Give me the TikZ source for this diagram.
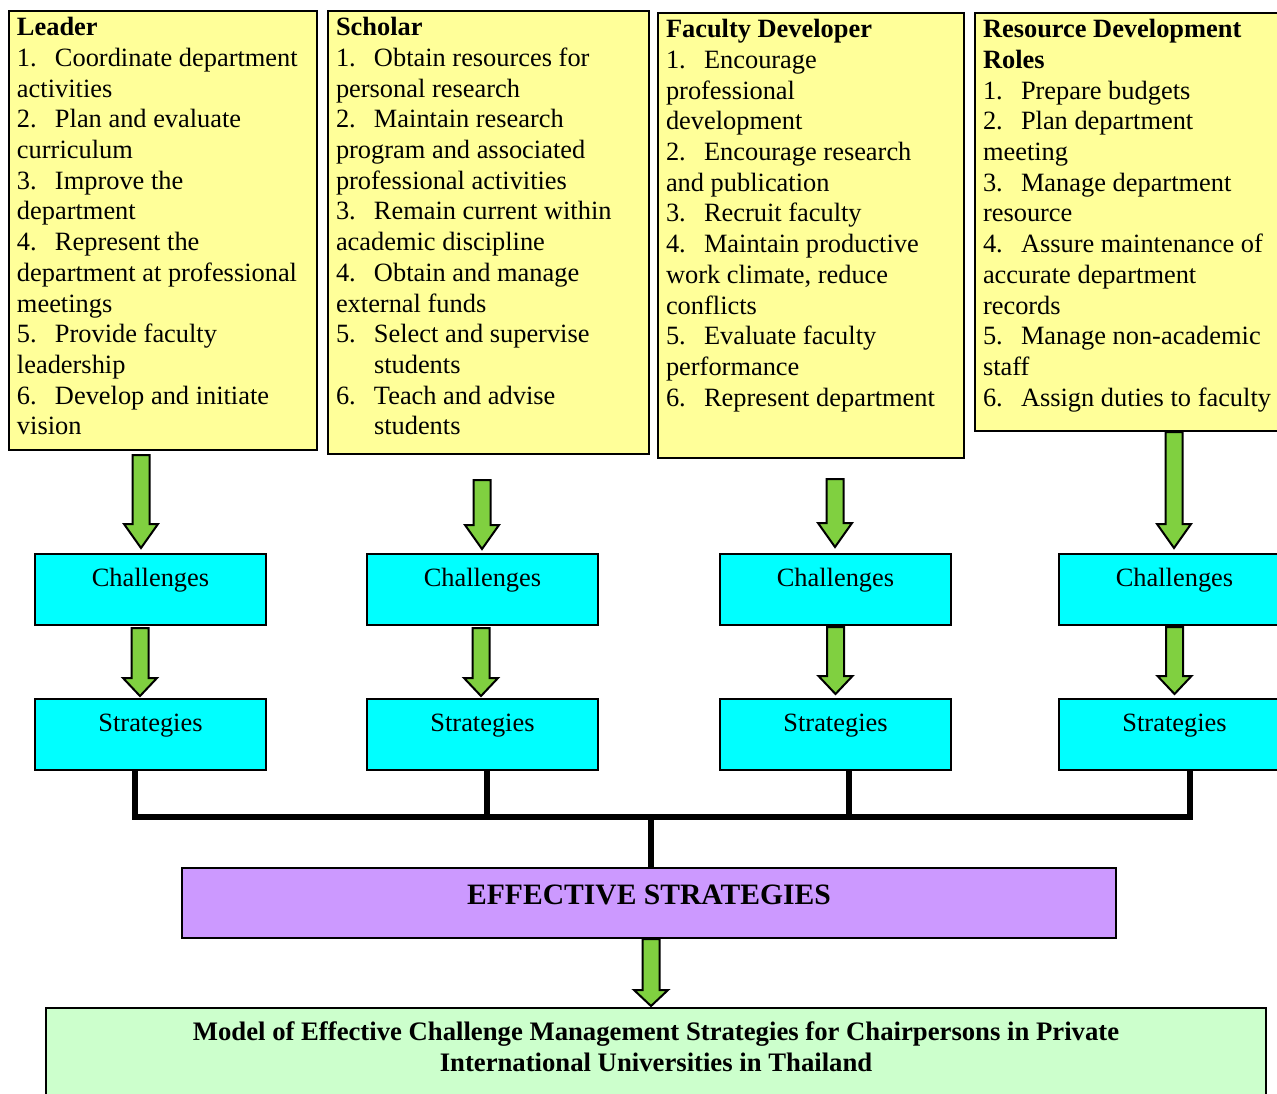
\documentclass[tikz,border=0pt]{standalone}
\usepackage{fontspec}
\setmainfont{Liberation Serif}
\usepackage{tikz}
\usetikzlibrary{calc}

\definecolor{roleyellow}{RGB}{255,255,153}
\definecolor{stagecyan}{RGB}{0,255,255}
\definecolor{effpurple}{RGB}{204,153,255}
\definecolor{modelgreen}{RGB}{204,255,204}
\definecolor{arrowgreen}{RGB}{128,208,64}

\newcommand{\bodyfont}{\fontsize{13.2pt}{15.35pt}\selectfont}
\newcommand{\rolenum}[1]{\makebox[19pt][l]{#1}}

\tikzset{
  rolebox/.style={draw, line width=1pt, fill=roleyellow, anchor=north west,
    inner xsep=4pt, inner ysep=3.2pt, font=\bodyfont},
  stagebox/.style={draw, line width=1pt, fill=stagecyan, anchor=north,
    minimum width=115.5pt, inner ysep=0pt, text height=16pt, text depth=19.5pt,
    font=\bodyfont},
  fatarrow/.style={draw=black, line width=1pt, fill=arrowgreen, line join=miter,
    to path={let \p1=(\tikztostart), \p2=(\tikztotarget) in
      (\x1-4.25pt,\y1) -- (\x1+4.25pt,\y1) -- (\x1+4.25pt,\y2+#1)
      -- (\x1+8.5pt,\y2+#1) -- (\x1,\y2) -- (\x1-8.5pt,\y2+#1)
      -- (\x1-4.25pt,\y2+#1) -- cycle}},
  fatarrow/.default=12pt,
  bus/.style={draw, line width=2.8pt, line join=miter}
}

\begin{document}
\begin{tikzpicture}[x=0.5pt, y=-0.5pt]
  \useasboundingbox (0,0) rectangle (1277,1093);

  % Role boxes
  \node[rolebox] (lead) at (8,10) {\parbox[t][213.1pt][t]{146pt}{\raggedright
    \textbf{Leader}\\
    \rolenum{1.}Coordinate department\\
    activities\\
    \rolenum{2.}Plan and evaluate\\
    curriculum\\
    \rolenum{3.}Improve the\\
    department\\
    \rolenum{4.}Represent the\\
    department at professional\\
    meetings\\
    \rolenum{5.}Provide faculty\\
    leadership\\
    \rolenum{6.}Develop and initiate\\
    vision}};
  \node[rolebox] (schol) at (327,10) {\parbox[t][215.1pt][t]{152.5pt}{\raggedright
    \textbf{Scholar}\\
    \rolenum{1.}Obtain resources for\\
    personal research\\
    \rolenum{2.}Maintain research\\
    program and associated\\
    professional activities\\
    \rolenum{3.}Remain current within\\
    academic discipline\\
    \rolenum{4.}Obtain and manage\\
    external funds\\
    \rolenum{5.}Select and supervise\\
    \hspace*{19pt}students\\
    \rolenum{6.}Teach and advise\\
    \hspace*{19pt}students}};
  \node[rolebox] (facdev) at (657,12) {\parbox[t][216.1pt][t]{145pt}{\raggedright
    \textbf{Faculty Developer}\\
    \rolenum{1.}Encourage\\
    professional\\
    development\\
    \rolenum{2.}Encourage research\\
    and publication\\
    \rolenum{3.}Recruit faculty\\
    \rolenum{4.}Maintain productive\\
    work climate, reduce\\
    conflicts\\
    \rolenum{5.}Evaluate faculty\\
    performance\\
    \rolenum{6.}Represent department}};
  \node[rolebox] (resdev) at (974,12) {\parbox[t][202.6pt][t]{146pt}{\raggedright
    \textbf{Resource Development}\\
    \textbf{Roles}\\
    \rolenum{1.}Prepare budgets\\
    \rolenum{2.}Plan department\\
    meeting\\
    \rolenum{3.}Manage department\\
    resource\\
    \rolenum{4.}Assure maintenance of\\
    accurate department\\
    records\\
    \rolenum{5.}Manage non-academic\\
    staff\\
    \rolenum{6.}Assign duties to faculty}};

  % Challenges and strategies
  \node[stagebox] (chal1) at (150.5,553) {Challenges};
  \node[stagebox] (chal2) at (482.5,553) {Challenges};
  \node[stagebox] (chal3) at (835.5,553) {Challenges};
  \node[stagebox] (chal4) at (1174.5,553) {Challenges};
  \node[stagebox] (str1) at (150.5,698) {Strategies};
  \node[stagebox] (str2) at (482.5,698) {Strategies};
  \node[stagebox] (str3) at (835.5,698) {Strategies};
  \node[stagebox] (str4) at (1174.5,698) {Strategies};

  % Result boxes
  \node[draw, line width=1pt, fill=effpurple, anchor=north, minimum width=467pt,
    inner ysep=0pt, text height=18pt, text depth=17pt,
    font=\fontsize{14.8pt}{17pt}\selectfont\bfseries] (eff) at (649,867) {EFFECTIVE STRATEGIES};
  \node[draw, line width=1pt, fill=modelgreen, anchor=north, inner xsep=0pt, inner ysep=7pt,
    font=\fontsize{13.35pt}{15.5pt}\selectfont\bfseries] (model) at (656,1007) {\parbox[t][40pt][t]{610pt}{\centering
    Model of Effective Challenge Management Strategies for Chairpersons in Private\\
    International Universities in Thailand}};

  % Arrows
  \draw[fatarrow] ([xshift=-11pt,yshift=-2pt]lead.south) to ([yshift=2.5pt]chal1.north);
  \draw[fatarrow] ([xshift=-3.25pt,yshift=-12.5pt]schol.south) to ([yshift=2pt]chal2.north);
  \draw[fatarrow] ([xshift=12pt,yshift=-10pt]facdev.south) to ([yshift=3pt]chal3.north);
  \draw[fatarrow] ([xshift=22.5pt]resdev.south) to ([yshift=2.5pt]chal4.north);

  \draw[fatarrow=9pt] ([xshift=-5.25pt,yshift=-1pt]chal1.south) to ([yshift=1pt]str1.north);
  \draw[fatarrow=9pt] ([xshift=-0.75pt,yshift=-1pt]chal2.south) to ([yshift=1pt]str2.north);
  \draw[fatarrow=9pt] ([yshift=-0.5pt]chal3.south) to ([yshift=2pt]str3.north);
  \draw[fatarrow=9pt] ([yshift=-0.5pt]chal4.south) to ([yshift=2pt]str4.north);

  \draw[fatarrow=8pt] ([xshift=1pt]eff.south) to ([yshift=0.5pt]model.north);

  % Joining lines
  \coordinate (j1) at (135,817);
  \coordinate (j2) at (487,817);
  \coordinate (j3) at (849,817);
  \coordinate (j4) at (1190,817);
  \coordinate (j0) at (651,817);
  \draw[bus] (j1 |- str1.south) -- (j1) -- (j4) -- (j4 |- str4.south);
  \draw[bus] (j2 |- str2.south) -- (j2);
  \draw[bus] (j3 |- str3.south) -- (j3);
  \draw[bus] (j0) -- (j0 |- eff.north);
\end{tikzpicture}
\end{document}
